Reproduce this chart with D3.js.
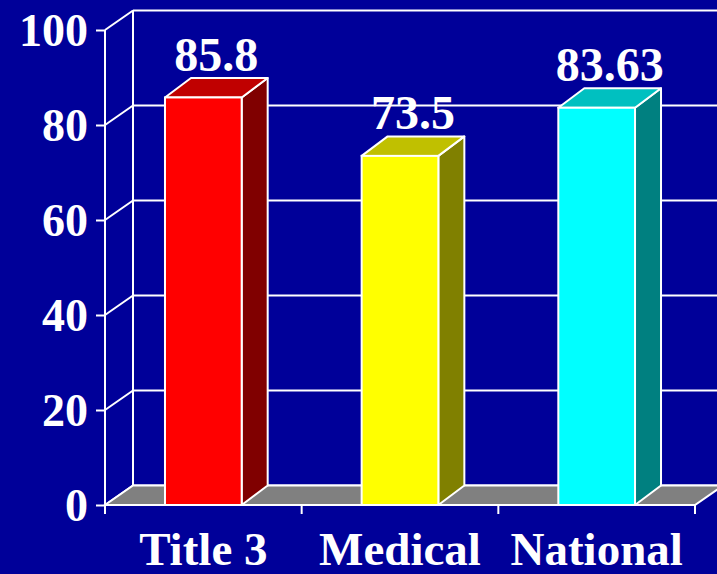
<!DOCTYPE html>
<html>
<head>
<meta charset="utf-8">
<title>3D bar chart</title>
<script src="https://d3js.org/d3.v7.min.js"></script>
<style>
  body { margin: 0; background: #000099; }
  svg { display: block; }
  text { font-family: "Liberation Serif", "Times New Roman", serif; font-weight: bold; fill: #fff; }
</style>
</head>
<body>
<svg width="717" height="574"></svg>
<script>
// data
var categories = ["Title 3", "Medical", "National"];
var values = [85.8, 73.5, 83.63];
var valueLabels = ["85.8", "73.5", "83.63"];
var yTicks = [0, 20, 40, 60, 80, 100];

// colours for front / top / side of each bar
var frontColors = ["#ff0000", "#ffff00", "#00ffff"];
var topColors = ["#c00000", "#c0c000", "#00c0c0"];
var sideColors = ["#800000", "#808000", "#008080"];

var svg = d3.select("svg");
var dx = 28, dy = -19.5;   // depth offset of the 3d box
var barDx = 26, barDy = -19.5;

var x = d3.scaleBand().domain(categories).range([105, 695])
    .paddingInner(0.61).paddingOuter(0.305);
var y = d3.scaleLinear().domain([0, 100]).range([505, 30]);

var left = 105, right = 695;

// back wall grid lines
svg.append("g").selectAll("line").data(yTicks).enter().append("line")
    .attr("x1", left + dx).attr("x2", 717)
    .attr("y1", d => y(d) + dy).attr("y2", d => y(d) + dy)
    .attr("stroke", "#fff").attr("stroke-width", 2);

// back wall left edge
svg.append("line")
    .attr("x1", left + dx).attr("x2", left + dx)
    .attr("y1", y(100) + dy).attr("y2", y(0) + dy)
    .attr("stroke", "#fff").attr("stroke-width", 2);

// side wall diagonals
svg.append("g").selectAll("line").data(yTicks).enter().append("line")
    .attr("x1", left).attr("x2", left + dx)
    .attr("y1", d => y(d)).attr("y2", d => y(d) + dy)
    .attr("stroke", "#fff").attr("stroke-width", 2);

// floor
svg.append("path")
    .attr("d", "M" + left + "," + y(0) + "L" + (left + dx) + "," + (y(0) + dy) +
        "L" + (right + dx) + "," + (y(0) + dy) + "L" + right + "," + y(0) + "Z")
    .attr("fill", "#808080").attr("stroke", "#fff").attr("stroke-width", 2);

// y axis
var yAxis = svg.append("g")
    .attr("transform", "translate(" + left + ",0)")
    .call(d3.axisLeft(y).tickValues(yTicks).tickSize(9).tickSizeOuter(0).tickPadding(8));
yAxis.select(".domain").remove();
yAxis.selectAll("line").attr("stroke", "#fff").attr("stroke-width", 2);
yAxis.selectAll("text").attr("fill", "#fff").style("font-size", "46px")
    .attr("dy", "0.34em");
svg.append("line")
    .attr("x1", left).attr("x2", left).attr("y1", y(100)).attr("y2", y(0) + 9)
    .attr("stroke", "#fff").attr("stroke-width", 2);

// x axis line and ticks at band boundaries
svg.append("line")
    .attr("x1", left).attr("x2", right).attr("y1", y(0)).attr("y2", y(0))
    .attr("stroke", "#fff").attr("stroke-width", 2);
svg.append("g").selectAll("line").data(d3.range(categories.length + 1)).enter().append("line")
    .attr("x1", i => left + i * x.step()).attr("x2", i => left + i * x.step())
    .attr("y1", y(0)).attr("y2", y(0) + 9)
    .attr("stroke", "#fff").attr("stroke-width", 2);

svg.append("g").selectAll("text").data(categories).enter().append("text")
    .attr("x", d => x(d) + x.bandwidth() / 2)
    .attr("y", 565)
    .attr("text-anchor", "middle")
    .style("font-size", "47px")
    .text(d => d);

// bars
var bars = svg.append("g").selectAll("g").data(values).enter().append("g");
var bw = x.bandwidth();

bars.append("path")  // side
    .attr("d", (d, i) => {
        var x1 = x(categories[i]) + bw;
        return "M" + x1 + "," + y(0) + "L" + (x1 + barDx) + "," + (y(0) + barDy) +
            "L" + (x1 + barDx) + "," + (y(d) + barDy) + "L" + x1 + "," + y(d) + "Z";
    })
    .attr("fill", (d, i) => sideColors[i])
    .attr("stroke", "#fff").attr("stroke-width", 2).attr("stroke-linejoin", "round");

bars.append("path")  // top
    .attr("d", (d, i) => {
        var x0 = x(categories[i]);
        return "M" + x0 + "," + y(d) + "L" + (x0 + barDx) + "," + (y(d) + barDy) +
            "L" + (x0 + bw + barDx) + "," + (y(d) + barDy) + "L" + (x0 + bw) + "," + y(d) + "Z";
    })
    .attr("fill", (d, i) => topColors[i])
    .attr("stroke", "#fff").attr("stroke-width", 2).attr("stroke-linejoin", "round");

bars.append("rect")  // front
    .attr("x", (d, i) => x(categories[i]))
    .attr("y", d => y(d))
    .attr("width", bw)
    .attr("height", d => y(0) - y(d))
    .attr("fill", (d, i) => frontColors[i])
    .attr("stroke", "#fff").attr("stroke-width", 2);

bars.append("text")
    .attr("x", (d, i) => x(categories[i]) + bw / 2 + barDx / 2)
    .attr("y", d => y(d) + barDy - 7)
    .attr("text-anchor", "middle")
    .style("font-size", "48px")
    .text((d, i) => valueLabels[i]);
</script>
</body>
</html>
